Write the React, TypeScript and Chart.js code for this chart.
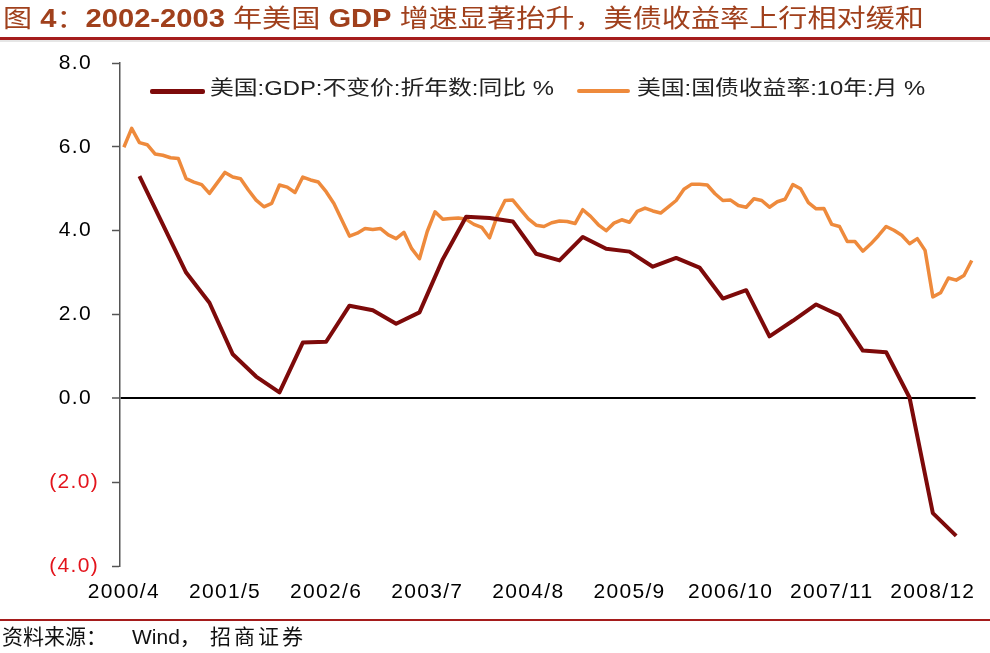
import React, { useEffect, useRef } from 'react';
import { Chart, registerables } from 'chart.js';

Chart.register(...registerables);

// ---------- DATA ----------
const startYear = 2000;
const startMonth = 4;
const monthCount = 110; // 2000/4 .. 2009/5
const months: string[] = [];
for (let i = 0; i < monthCount; i++) {
  const m = startMonth - 1 + i;
  months.push(`${startYear + Math.floor(m / 12)}/${(m % 12) + 1}`);
}

const xTickLabels = ['2000/4', '2001/5', '2002/6', '2003/7', '2004/8', '2005/9', '2006/10', '2007/11', '2008/12'];

// 美国:国债收益率:10年:月 (monthly, 2000/4 .. 2009/5)
const yield10y = [
  5.99, 6.44, 6.10, 6.05, 5.83, 5.80, 5.74, 5.72, 5.24,
  5.16, 5.10, 4.89, 5.14, 5.39, 5.28, 5.24, 4.97, 4.73, 4.57, 4.65, 5.09,
  5.04, 4.91, 5.28, 5.21, 5.16, 4.93, 4.65, 4.26, 3.87, 3.94, 4.05, 4.03,
  4.05, 3.90, 3.81, 3.96, 3.57, 3.33, 3.98, 4.45, 4.27, 4.29, 4.30, 4.27,
  4.15, 4.08, 3.83, 4.35, 4.72, 4.73, 4.50, 4.28, 4.13, 4.10, 4.19, 4.23,
  4.22, 4.17, 4.50, 4.34, 4.14, 4.00, 4.18, 4.26, 4.20, 4.46, 4.54, 4.47,
  4.42, 4.57, 4.72, 4.99, 5.11, 5.11, 5.09, 4.88, 4.72, 4.73, 4.60, 4.56,
  4.76, 4.72, 4.56, 4.69, 4.75, 5.10, 5.00, 4.67, 4.52, 4.53, 4.15, 4.10,
  3.74, 3.74, 3.51, 3.68, 3.88, 4.10, 4.01, 3.89, 3.69, 3.81, 3.53, 2.42,
  2.52, 2.87, 2.82, 2.93, 3.29,
];

// 美国:GDP:不变价:折年数:同比 (quarterly)
const gdpMonths = [
  '2000/6', '2000/9', '2000/12',
  '2001/3', '2001/6', '2001/9', '2001/12',
  '2002/3', '2002/6', '2002/9', '2002/12',
  '2003/3', '2003/6', '2003/9', '2003/12',
  '2004/3', '2004/6', '2004/9', '2004/12',
  '2005/3', '2005/6', '2005/9', '2005/12',
  '2006/3', '2006/6', '2006/9', '2006/12',
  '2007/3', '2007/6', '2007/9', '2007/12',
  '2008/3', '2008/6', '2008/9', '2008/12',
  '2009/3',
];
const gdpValues = [
  5.30, 4.15, 3.00,
  2.28, 1.05, 0.52, 0.14,
  1.33, 1.35, 2.21, 2.10,
  1.78, 2.05, 3.32, 4.33,
  4.30, 4.22, 3.45, 3.29,
  3.85, 3.57, 3.50, 3.14,
  3.35, 3.12, 2.38, 2.58,
  1.48, 1.85, 2.24, 1.98,
  1.14, 1.10, 0.02, -2.74,
  -3.28,
];

const legendLabels = ['美国:GDP:不变价:折年数:同比 %', '美国:国债收益率:10年:月 %'];
const seriesColors = ['#7D0A0A', '#EE8A3C'];

// title pieces: [text, bold]
const titleParts: [string, boolean][] = [
  ['图 ', false],
  ['4', true],
  ['：', false],
  ['2002-2003', true],
  [' 年美国 ', false],
  ['GDP', true],
  [' 增速显著抬升，美债收益率上行相对缓和', false],
];

// ---------- CHART ----------
const FONT = '"Liberation Sans", Arial, "Noto Sans CJK SC", sans-serif';

const spacingPlugin = {
  id: 'letterSpacing',
  beforeLayout(chart: any) {
    chart.ctx.letterSpacing = '1.3px';
  },
  beforeDraw(chart: any) {
    chart.ctx.letterSpacing = '1.3px';
  },
};

function App() {
  const canvasRef = useRef<HTMLCanvasElement | null>(null);

  useEffect(() => {
    const canvas = canvasRef.current;
    if (!canvas) return;
    const gdpSeries: (number | null)[] = months.map(() => null);
    gdpMonths.forEach((m, i) => {
      const idx = months.indexOf(m);
      if (idx >= 0) gdpSeries[idx] = gdpValues[i];
    });

    const chart = new Chart(canvas, {
      type: 'line',
      data: {
        labels: months,
        datasets: [
          {
            label: legendLabels[0],
            data: gdpSeries,
            borderColor: seriesColors[0],
            backgroundColor: seriesColors[0],
            borderWidth: 4,
            pointRadius: 0,
            spanGaps: true,
            tension: 0,
            borderJoinStyle: 'round',
          },
          {
            label: legendLabels[1],
            data: yield10y,
            borderColor: seriesColors[1],
            backgroundColor: seriesColors[1],
            borderWidth: 3.5,
            pointRadius: 0,
            tension: 0,
            borderJoinStyle: 'round',
          },
        ],
      },
      options: {
        animation: false,
        responsive: false,
        events: [],
        layout: { padding: { top: 63, right: 13, bottom: 47, left: 0 } },
        plugins: {
          legend: { display: false },
          tooltip: { enabled: false },
          title: { display: false },
        },
        scales: {
          x: {
            type: 'category',
            offset: true,
            grid: { display: false, drawTicks: false },
            border: { display: false },
            ticks: {
              autoSkip: false,
              maxRotation: 0,
              minRotation: 0,
              padding: 14,
              color: '#000',
              font: { family: FONT, size: 21 },
              callback: (_v: any, i: number) => (xTickLabels.includes(months[i]) ? months[i] : null),
            },
            afterFit: (s: any) => {
              s.height = 40;
            },
          },
          y: {
            min: -4,
            max: 8,
            ticks: {
              stepSize: 2,
              padding: 13,
              font: { family: FONT, size: 21 },
              color: (ctx: any) => (ctx.tick && ctx.tick.value < 0 ? '#E3141C' : '#000'),
              callback: (v: any) =>
                v < 0 ? `(${Math.abs(v).toFixed(1)})` : `${Number(v).toFixed(1)} `,
            },
            grid: {
              color: (ctx: any) => (ctx.tick && ctx.tick.value === 0 ? '#000' : 'rgba(0,0,0,0)'),
              lineWidth: (ctx: any) => (ctx.tick && ctx.tick.value === 0 ? 2 : 1),
              tickColor: '#555',
              tickWidth: 1.5,
              tickLength: 8,
            },
            border: { color: '#555', width: 1.5 },
            afterFit: (s: any) => {
              s.width = 120;
            },
          },
        },
      },
      plugins: [spacingPlugin],
    } as any);

    return () => chart.destroy();
  }, []);

  const legendText: React.CSSProperties = {
    position: 'absolute',
    top: 78,
    fontFamily: FONT,
    fontSize: 20,
    lineHeight: '20px',
    color: '#222',
    whiteSpace: 'nowrap',
    transform: 'scaleX(1.19)',
    transformOrigin: 'left center',
  };

  return (
    <div
      style={{
        position: 'absolute',
        left: 0,
        top: 0,
        width: 990,
        height: 653,
        background: '#fff',
        overflow: 'hidden',
      }}
    >
      <canvas ref={canvasRef} width={990} height={653} style={{ display: 'block', position: 'absolute', left: 0, top: 0 }} />

      {/* title */}
      <div
        style={{
          position: 'absolute',
          left: 3,
          top: 6,
          fontFamily: FONT,
          fontSize: 25,
          lineHeight: '25px',
          color: '#A0401C',
          whiteSpace: 'nowrap',
          transform: 'scaleX(1.165)',
          transformOrigin: 'left center',
        }}
      >
        {titleParts.map(([t, b], i) => (
          <span key={i} style={{ fontWeight: b ? 'bold' : 'normal' }}>
            {t}
          </span>
        ))}
      </div>
      <div style={{ position: 'absolute', left: 0, top: 37, width: 990, height: 3, background: '#A51C1C' }} />
      <div style={{ position: 'absolute', left: 0, top: 40, width: 990, height: 2, background: '#E6E6E6' }} />

      {/* legend */}
      <div style={{ position: 'absolute', left: 150, top: 89, width: 55, height: 5, borderRadius: 2, background: seriesColors[0] }} />
      <div style={{ ...legendText, left: 210 }}>{legendLabels[0]}</div>
      <div style={{ position: 'absolute', left: 577, top: 89, width: 53, height: 4, borderRadius: 2, background: seriesColors[1] }} />
      <div style={{ ...legendText, left: 637 }}>{legendLabels[1]}</div>

      {/* footer */}
      <div style={{ position: 'absolute', left: 0, top: 619, width: 990, height: 2, background: '#A51C1C' }} />
      <div
        style={{
          position: 'absolute',
          left: 2,
          top: 626,
          fontFamily: FONT,
          fontSize: 21,
          lineHeight: '22px',
          color: '#111',
          whiteSpace: 'nowrap',
        }}
      >
        <span>资料来源：</span>
        <span style={{ position: 'absolute', left: 130 }}>Wind，</span>
        <span style={{ position: 'absolute', left: 208, letterSpacing: 3 }}>招商证券</span>
      </div>
    </div>
  );
}

export default App;
